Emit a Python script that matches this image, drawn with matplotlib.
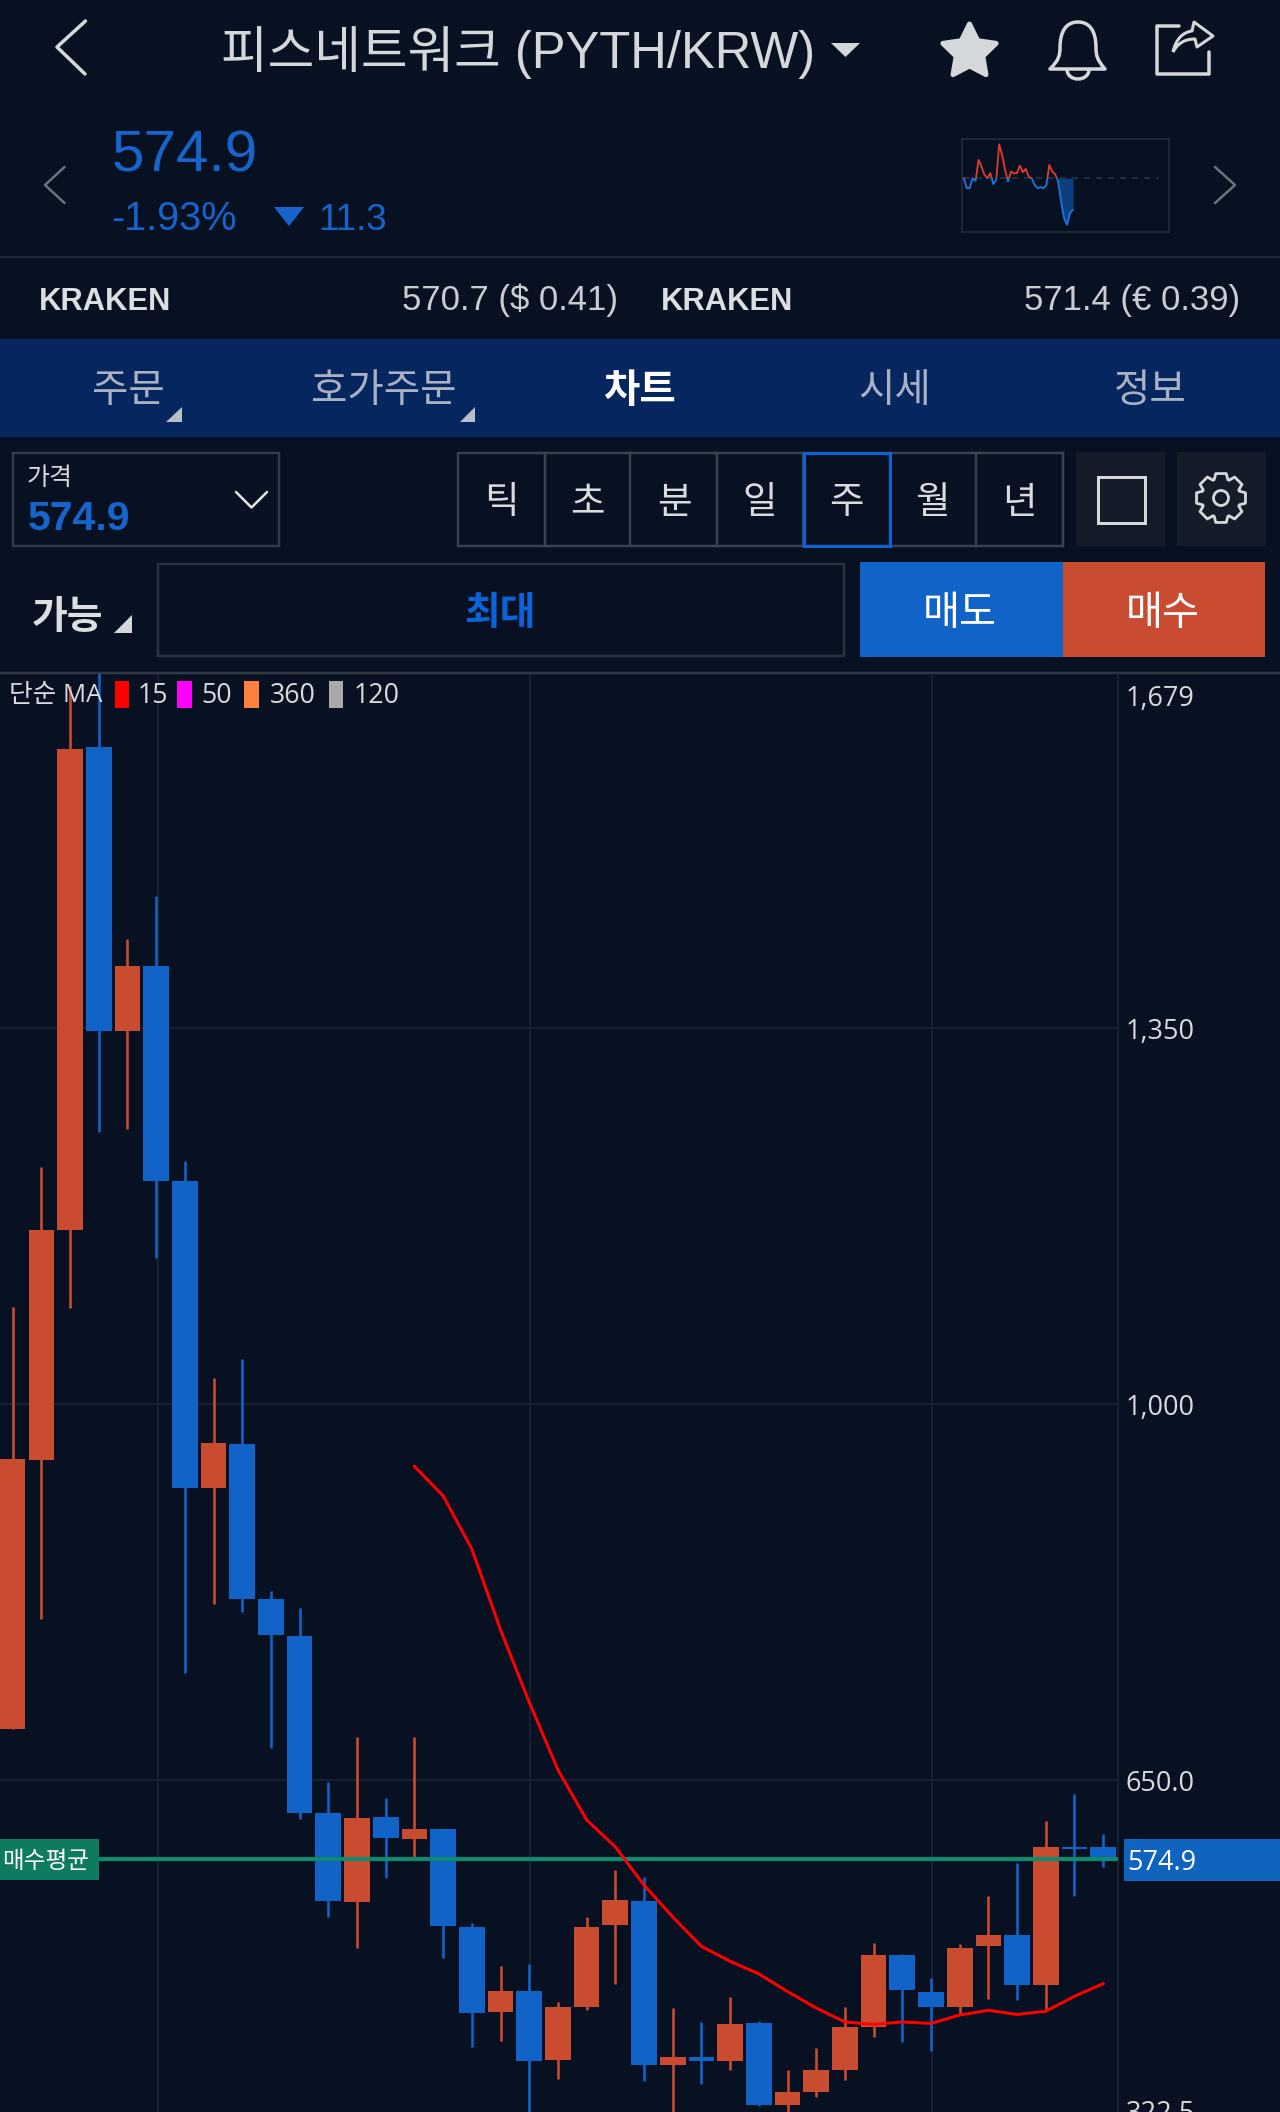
import numpy as np
import matplotlib
matplotlib.use("Agg")
import matplotlib.pyplot as plt
from matplotlib.patches import Rectangle, Polygon, PathPatch, Circle
from matplotlib.path import Path

W, H = 1280, 2112
BG = "#071121"
RED = "#c94c30"
BLUE = "#1163c7"
PRICE_BLUE = "#1565cc"
ACCENT = "#0a63d8"
GREY_TXT = "#d8dadd"
ICON = "#d5d8db"

HANGUL = ["Liberation Sans", "Noto Sans CJK KR", "DejaVu Sans"]
CJK = ["Noto Sans CJK KR", "Liberation Sans", "DejaVu Sans"]
AXISF = ["Open Sans", "Noto Sans CJK KR", "DejaVu Sans"]

# ---------- chart data ----------
opens = [697.5, 948.3, 1162, 1612, 1347.5, 1408.2, 1208.1, 921.8, 963.1, 818.8,
         784.4, 619.3, 536.7, 615.4, 595.4, 604.5, 513.2, 434.2, 454.1, 389.4,
         438.9, 515, 538, 385, 392, 388.5, 424.2, 348.1, 359.8, 380.7,
         420.7, 487.6, 452.8, 439.4, 495.4, 506.3, 459, 588, 587.6]
closes = [949.2, 1162, 1609.9, 1347.5, 1408.2, 1208.1, 921.8, 963.9, 819.2, 784.9,
          619.7, 537.2, 615, 595.8, 604.5, 514.1, 433.7, 454.1, 388.5, 439.4,
          513.7, 538.9, 385, 392.4, 388.5, 423.3, 348.1, 359.8, 380.7, 420.7,
          487.6, 454.6, 439.4, 494.1, 506.3, 459, 588, 586, 577.1]
highs = [1090.2, 1221, 1669, 1690, 1433.4, 1473.1, 1226.9, 1024, 1042.3, 826.2,
         810.5, 648.8, 690.1, 633.2, 690.6, 604.5, 516.7, 476.7, 479.3, 443.7,
         522.8, 566.7, 559.8, 438, 424.6, 448.1, 426.3, 380.3, 400.7, 439,
         498.9, 488.5, 466.3, 497.2, 542.4, 572.8, 611.9, 637.5, 600.2]
lows = [697.5, 800.1, 1090, 1253.4, 1256, 1136.3, 749.7, 814, 806.6, 680.1,
        614.1, 522.8, 493.7, 558.9, 578.4, 484.6, 402, 407.6, 335, 371.6,
        435.9, 460.2, 369.8, 335, 367.7, 380.3, 346.4, 335, 355.5, 370.7,
        411.1, 406.3, 397.6, 431.5, 446.3, 445.9, 435, 542.4, 568.9]
ma15_start = 14
ma15 = [942.2, 914.8, 865.3, 790.1, 722.7, 659.7, 613.2, 588, 552.4, 522.8,
        495.4, 481.5, 469.8, 453.3, 438, 425, 422.8, 425, 423.7, 431.5,
        435.9, 432, 435, 448.9, 460.7]
grid_prices = [1350, 1000, 650]
grid_labels = ["1,350", "1,000", "650.0"]
top_label, bottom_label = ("1,679", 1679), ("322.5", 322.5)
last_price = 574.9
avg_buy = 576.7
vgrid_positions = [5.06, 18.03, 32.03]
legend_items = [("15", "#ff0000"), ("50", "#ff00ff"), ("360", "#ff7f3f"), ("120", "#a9a9a9")]
spark = [0, -30, -30, 0, -8, 55, 35, 10, 0, 15, -18, -5, 102, 70, 25, -10, 20, 15, 15, 38,
         18, 28, 5, 0, -20, -30, -27, -30, -22, 40, 20, 12, -10, -70, -120, -140, -105, -95]
tabs = ["주문", "호가주문", "차트", "시세", "정보"]
periods = ["틱", "초", "분", "일", "주", "월", "년"]

fig = plt.figure(figsize=(W / 100, H / 100), dpi=100, facecolor=BG)


def pt(px):
    return px * 0.72


# ---------- UI layer (below) ----------
ui = fig.add_axes([0, 0, 1, 1], zorder=0)
ui.set_xlim(0, W)
ui.set_ylim(H, 0)
ui.axis("off")


def rect(ax, x0, y0, x1, y1, fc="none", ec="none", lw=0, z=2):
    ax.add_patch(Rectangle((x0, y0), x1 - x0, y1 - y0, fc=fc, ec=ec, lw=pt(lw), zorder=z))


def poly(ax, pts, color=ICON, z=3):
    ax.add_patch(Polygon(pts, closed=True, fc=color, ec="none", zorder=z))


def stroke(ax, pts, color=ICON, lw=3, z=3):
    xs, ys = zip(*pts)
    ax.plot(xs, ys, color=color, lw=pt(lw), solid_capstyle="round", solid_joinstyle="round", zorder=z)


# header
stroke(ui, [(85.5, 21), (57, 47), (85, 74)], lw=3.5)
ui.text(221, 68, "피스네트워크 (PYTH/KRW)", family=HANGUL, fontsize=36.5, color="#d5d8db", va="baseline")
poly(ui, [(831, 43), (860, 43), (845.5, 57)])
# star
a = np.deg2rad(np.arange(10) * 36 - 90)
r = np.where(np.arange(10) % 2 == 0, 28, 14)
star = np.c_[969.5 + r * np.cos(a), 52 + r * np.sin(a)]
ui.add_patch(Polygon(star, closed=True, fc=ICON, ec=ICON, lw=pt(5), joinstyle="round", zorder=3))
# bell
bell = Path([(1050, 69), (1059, 60), (1060, 55), (1060, 48), (1060, 30), (1067, 22), (1078, 22),
             (1089, 22), (1096, 30), (1096, 48), (1096, 55), (1097, 60), (1105, 69), (1050, 69)],
            [Path.MOVETO, Path.CURVE4, Path.CURVE4, Path.CURVE4, Path.CURVE4, Path.CURVE4, Path.CURVE4,
             Path.CURVE4, Path.CURVE4, Path.CURVE4, Path.CURVE4, Path.CURVE4, Path.CURVE4, Path.CLOSEPOLY])
ui.add_patch(PathPatch(bell, fc="none", ec=ICON, lw=pt(3.5), joinstyle="round", zorder=3))
clap = Path([(1067, 70), (1068, 82), (1088, 82), (1089, 70)], [Path.MOVETO, Path.CURVE4, Path.CURVE4, Path.CURVE4])
ui.add_patch(PathPatch(clap, fc="none", ec=ICON, lw=pt(3.5), zorder=3))
# share
stroke(ui, [(1179, 26), (1157, 26), (1157, 74), (1209, 74), (1209, 52)], lw=3.5)
arrow = Path([(1173, 52), (1176, 38), (1184, 32), (1192, 31), (1194, 22), (1213, 36), (1197, 47), (1195, 39),
              (1185, 39), (1178, 43), (1173, 52)],
             [Path.MOVETO, Path.CURVE4, Path.CURVE4, Path.CURVE4, Path.LINETO, Path.LINETO, Path.LINETO, Path.LINETO,
              Path.CURVE4, Path.CURVE4, Path.CURVE4])
ui.add_patch(PathPatch(arrow, fc="none", ec=ICON, lw=pt(3), joinstyle="round", zorder=3))

# price block
ui.text(112, 172, "574.9", family=HANGUL, fontsize=42, color=PRICE_BLUE, va="baseline")
ui.text(111, 230, "-1.93%", family=HANGUL, fontsize=28.5, color=PRICE_BLUE, va="baseline")
poly(ui, [(274, 207), (304, 207), (289, 226)], color=PRICE_BLUE)
ui.text(318, 230, "11.3", family=HANGUL, fontsize=26.5, color=PRICE_BLUE, va="baseline")
stroke(ui, [(64.5, 167), (45, 185), (64.5, 203)], color="#6b727c", lw=2.5)
stroke(ui, [(1215, 167), (1235, 185), (1215, 203)], color="#6b727c", lw=2.5)
ui.plot([0, W], [256.7, 256.7], color="#1e2735", lw=pt(2), zorder=2)

# exchange row
ui.text(39, 310, "KRAKEN", family=HANGUL, fontsize=22.2, weight="bold", color="#dcdfe1", va="baseline")
ui.text(618, 310, "570.7 ($ 0.41)", family=HANGUL, fontsize=25, color="#c9ccd0", va="baseline", ha="right")
ui.text(660.5, 310, "KRAKEN", family=HANGUL, fontsize=22.2, weight="bold", color="#dcdfe1", va="baseline")
ui.text(1240, 310, "571.4 (€ 0.39)", family=HANGUL, fontsize=25, color="#c9ccd0", va="baseline", ha="right")

# tab bar
rect(ui, 0, 339, W, 437, fc="#062660", z=1)
tab_x = [128, 384, 639, 895, 1150]
for t, x in zip(tabs, tab_x):
    active = t == "차트"
    ui.text(x, 391, t, family=CJK, fontsize=28.5, weight="bold" if active else "normal",
            color="white" if active else "#a9b1c2", ha="center", va="center")
for x in (181.6, 475):
    poly(ui, [(x, 407), (x, 422), (x - 15.5, 422)], color="#b8bfca")

# price selector
rect(ui, 13, 453, 278.5, 545.5, ec="#333b49", lw=2.5)
ui.text(27, 478, "가격", family=CJK, fontsize=18, color=GREY_TXT, va="center")
ui.text(28, 530, "574.9", family=HANGUL, fontsize=29.5, weight="bold", color=PRICE_BLUE, va="baseline")
stroke(ui, [(236, 492), (251.5, 507.5), (267, 492)], color="#e4e6e8", lw=2.5)

# periods
seg_x = [501, 587.5, 674, 760, 846, 932, 1019]
rect(ui, 458, 453, 1063, 545.5, ec="#3a424f", lw=2.5)
for x in [545, 630, 716.5, 803, 890, 976]:
    ui.plot([x, x], [453, 545.5], color="#3a424f", lw=pt(2.5), zorder=2)
for t, x in zip(periods, seg_x):
    ui.text(x, 503, t, family=CJK, fontsize=27, color="#d9dcdf", ha="center", va="center")
rect(ui, 803.5, 453, 890, 545.5, ec=ACCENT, lw=3, z=3)

# layout / settings buttons
rect(ui, 1076, 452, 1165, 546, fc="#141c2a")
rect(ui, 1177, 452, 1266, 546, fc="#141c2a")
rect(ui, 1098, 476.5, 1144.5, 523, ec=ICON, lw=3, z=3)
n = 8
gear_a, gear_r = [], []
for i in range(n):
    c = 2 * np.pi * i / n - np.pi / 2
    for off, rad in [(-0.36, 19.5), (-0.21, 25), (0.21, 25), (0.36, 19.5)]:
        gear_a.append(c + off)
        gear_r.append(rad)
gear_a, gear_r = np.array(gear_a), np.array(gear_r)
ui.add_patch(Polygon(np.c_[1221 + gear_r * np.cos(gear_a), 498 + gear_r * np.sin(gear_a)], closed=True,
                     fc="none", ec=ICON, lw=pt(2.8), joinstyle="round", zorder=3))
ui.add_patch(Circle((1221, 498), 7.5, fc="none", ec=ICON, lw=pt(2.8), zorder=3))

# order row
ui.text(67.5, 618, "가능", family=CJK, fontsize=28, weight="bold", color="#dcdfe1", ha="center", va="center")
poly(ui, [(131.5, 615), (131.5, 633), (113.5, 633)], color="#d5d8db")
rect(ui, 157.5, 563.5, 843.5, 656, ec="#2a3240", lw=2.5)
ui.text(500, 613, "최대", family=CJK, fontsize=28, weight="bold", color=ACCENT, ha="center", va="center")
rect(ui, 860, 562, 1062.5, 657, fc=BLUE)
rect(ui, 1062.5, 562, 1264.5, 657, fc=RED)
ui.text(960, 613, "매도", family=CJK, fontsize=29, color="white", ha="center", va="center", zorder=4)
ui.text(1163, 613, "매수", family=CJK, fontsize=29, color="white", ha="center", va="center", zorder=4)
ui.plot([0, W], [672.7, 672.7], color="#2f3744", lw=pt(2.5), zorder=2)

# ---------- sparkline ----------
sp = fig.add_axes([961.5 / W, 1 - 232 / H, (1169 - 961.5) / W, (232 - 139) / H], zorder=2)
sp.set_facecolor("none")
sp.set_xlim(-0.78, 69.6)
sp.set_ylim(-162, 118)
sp.set_xticks([])
sp.set_yticks([])
for s in sp.spines.values():
    s.set_color("#1e2735")
    s.set_linewidth(pt(2))
xs = np.arange(len(spark))
sv = np.array(spark, dtype=float)
sp.plot([0, 66.2], [0, 0], color="#232c3a", lw=pt(2), ls=(0, (3, 3)), zorder=1)
sp.fill_between(xs[32:], sv[32:], 0, color="#0b3f80", lw=0, zorder=2)
up, = sp.plot(xs, sv, color="#e5392b", lw=pt(1.8), zorder=3)
dn, = sp.plot(xs, sv, color="#1a78e0", lw=pt(1.8), zorder=3)
up.set_clip_path(Rectangle((-1, 0), 80, 130, transform=sp.transData))
dn.set_clip_path(Rectangle((-1, -170), 80, 170, transform=sp.transData))

# ---------- candlestick chart ----------
ax = fig.add_axes([0, 0, 1118.4 / W, (H - 674) / H], zorder=1)
ax.set_facecolor("none")
ax.set_xlim(-0.441, 38.53)
ax.set_ylim(341.2, 1679.8)
for k, s in ax.spines.items():
    s.set_visible(k == "right")
    s.set_color("#1c2535")
    s.set_linewidth(pt(1.5))
ax.set_xticks(vgrid_positions)
ax.tick_params(axis="x", length=0, labelbottom=False)
ax.yaxis.tick_right()
ax.set_yticks(grid_prices)
ax.set_yticklabels(grid_labels, family=AXISF, fontsize=19.5, color=GREY_TXT)
ax.tick_params(axis="y", length=0, pad=pt(7.5))
ax.grid(True, color="#1c2535", lw=pt(1.5), zorder=0)
ax.set_axisbelow(True)

o, c, hi, lo = map(np.array, (opens, closes, highs, lows))
x = np.arange(len(o))
cols = np.where(c >= o, RED, BLUE)
ax.vlines(x, lo, hi, colors=cols, lw=pt(2.6), zorder=2)
ax.bar(x, np.abs(c - o), bottom=np.minimum(o, c), width=0.895, color=cols, lw=0, zorder=3)
ax.axhline(avg_buy, color="#0e8a6d", lw=pt(4.2), zorder=4)
ax.plot(np.arange(len(ma15)) + ma15_start, ma15, color="#ff0000", lw=pt(3), zorder=5,
        solid_joinstyle="round")

ytrans = ax.get_yaxis_transform()
for (lab, val), dy in ((top_label, -24), (bottom_label, 18.5)):
    ax.annotate(lab, xy=(1, val), xycoords=ytrans, xytext=(7.5, dy), textcoords="offset pixels",
                family=AXISF, fontsize=19.5, color=GREY_TXT, va="center", annotation_clip=False)

# ---------- overlay: legend, tags ----------
ov = fig.add_axes([0, 0, 1, 1], zorder=3)
ov.set_xlim(0, W)
ov.set_ylim(H, 0)
ov.axis("off")
ov.patch.set_alpha(0)
ov.text(9, 696, "단순 MA", family=AXISF, fontsize=18.5, color=GREY_TXT, va="center")
for (lab, col), bx, tx in zip(legend_items, [114.5, 177, 244, 328.5], [138, 201.5, 270, 353.5]):
    rect(ov, bx, 681, bx + 14.7, 708, fc=col)
    ov.text(tx, 696, lab, family=AXISF, fontsize=19.3, color=GREY_TXT, va="center")
rect(ov, 0, 1839, 99, 1879.5, fc="#0e7a5f")
ov.text(46, 1862, "매수평균", family=CJK, fontsize=17, color="white", ha="center", va="center", zorder=4)
rect(ov, 1124, 1839, W, 1881, fc="#1163c0")
ov.text(1127, 1863, f"{last_price}", family=AXISF, fontsize=19.5, color="white", va="center", zorder=4)

fig.savefig("out.png", dpi=100, facecolor=BG)
